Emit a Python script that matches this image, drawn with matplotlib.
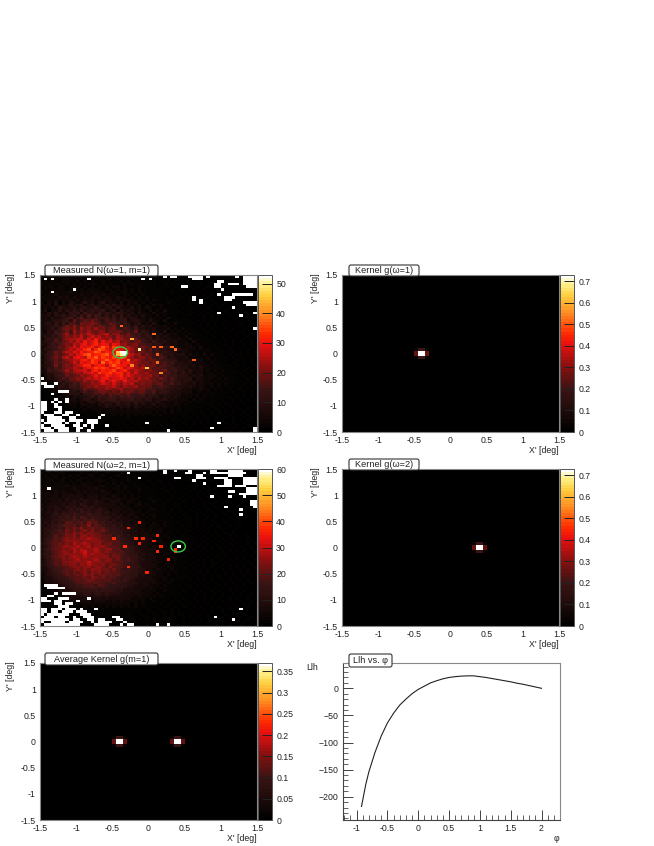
#!/usr/bin/env python3
"""Two measured sky maps, their kernels, the average kernel and the likelihood scan."""
import matplotlib
matplotlib.use('Agg')
import matplotlib.pyplot as plt
import numpy as np
from matplotlib.colors import LinearSegmentedColormap
from matplotlib.patches import Ellipse, FancyBboxPatch
from matplotlib.transforms import Affine2D

plt.rcParams['font.family'] = ['Liberation Sans', 'DejaVu Sans']
plt.rcParams['font.size'] = 6.3

W, H = 654, 846
TEXT = '#222222'

# counts / 2 per bin in base 36, top row first
N1_ROWS = [
    "2112121111 1211112111 1111211101 1111011011 0101001000 0000000000",
    "1221212211 1112121112 1211111111 0111110101 0010100000 0000000000",
    "1212112221 2121211211 1121211111 1101110100 1001000000 0000000000",
    "2121221212 1212221212 1112121111 1110111011 0010100010 0000000000",
    "1222122122 2121212121 2212111211 1101110101 1001001000 0000000000",
    "1212222122 2212222122 1212121211 1111101011 0010010001 0000000000",
    "2122222232 1222322212 2122121211 1111011101 0100101000 1000000000",
    "1222322222 2322232322 2212212121 1111101010 1010010100 0000000000",
    "2222232323 2232333232 2322121212 1111110111 0101001001 0000000000",
    "1222323232 3233323333 2323221212 1211111010 1100100100 1000000000",
    "2132413243 2353424523 3241323121 2111121101 0101010010 0100000000",
    "2231423353 4524534353 5342322312 1312111110 1101010100 1001000000",
    "1323254345 3554464345 3533242313 2112111101 0110101001 0010000000",
    "2413353546 4645655634 5253432321 3121311110 1101010100 0100100000",
    "2243534365 6375647565 4654342422 1312211111 0110101010 0100000000",
    "3342546457 4758577464 6463533242 2131211101 1101010101 0010010000",
    "2425345684 7957586775 7465354232 3212131111 1010110100 1001000000",
    "3334556749 6798a87586 7566345432 4221311111 1101010110 0100100000",
    "2453647588 6a99b98679 8757534523 2421121311 1110101010 1010010000",
    "3345657a8b 8a9ba8a978 9686746353 4232312111 1101101010 0100100000",
    "2346479a9b 8cab9c9a89 a768757443 3422231212 1110110101 0101001000",
    "3254768a7c 9baca9bb8a 9a97869465 3432412121 2111011010 1010010000",
    "4345789c8b acbdbabcd9 bb88a76756 4334232312 1211101101 0100101000",
    "3546579bac bdacecdbcb 9cb9a87756 6353432221 3111110110 1010100100",
    "2465869bcc ddbecfdcbd acca98a675 6454343232 1311111010 1101001000",
    "3556879acb dcfdegcfde cdaba89a76 5754533422 2131111101 0101010010",
    "4357689bad cefdfgeffc febc9ab887 7565343322 3212111110 1101001010",
    "2466798bce cfefgdfigd hgecdba8a8 7865654332 2321311111 0110101001",
    "3556789bdc eeghdgihfe gfeddca897 9675544343 3221212111 1011010100",
    "4367a8bdcf dgefgihegf eecfdb9aa8 8675654423 3212121111 1101010101",
    "3567989bdc efhifgghif fdgfedbc8a 8787555344 2322131211 1010110101",
    "2568a8cdbe fedhgifhgf hfigdcabb9 9768745433 4222212111 1101010010",
    "3467979bcd dfgehgfgig fhfegcdba8 a977665633 3422312121 1110101010",
    "2557989abe cfefhgdifh ghefgdcb9a 8a87867544 3423221211 1101101010",
    "3456a79bac deggdfgfdg igffdecab9 9a78876454 4342322121 1110101001",
    "2465879abd cbeffhghge fhgdfecbdb a898767654 5332422212 1111010110",
    "3376789cac ddecfgegfg hefgdcdcba b988a76755 3533322121 2111101010",
    "2355668a9b cbdefdhfgh fggdfcebbc 9a98786646 4423312212 1111110101",
    "1344677a89 acbcdfdegf efgdfdccbb c9a7876755 5343422221 2111011010",
    "2243568799 bacdcedffd eefecdbdbc a98a868655 4524322212 1211101101",
    "1323465788 a9cacbdfce fdcfdcdbba b987867654 5433322121 2111110101",
    "1223346568 79aacbcedc ecbdcdaaba a899678564 4342322212 1211101010",
    "1132355477 689bacbbcc dbacbbc9a9 9778765544 3432321212 1111011010",
    "1212244556 67a889bacb abc9aa99a8 8767655453 3322322121 1110110101",
    "0112234355 4686789a98 a8b9aa8997 7856654433 3312212111 1111011010",
    "0111213354 5366687979 8988a77886 6745544342 3222121211 1101101010",
    "0111122324 3445757668 7687876675 6553443432 2212121111 1110101010",
    "0101112133 2355346567 7566675646 5344533322 2121211111 1011010101",
    "0011111223 2324534645 5645546453 4353232322 1212111110 1101010101",
    "0101011122 1332324354 3544535343 3423322321 2111111101 0110101000",
    "0010101112 1213222343 3243424323 3232322121 1111110110 1010100101",
    "0001010111 1121222222 3232323222 2222212121 1111101011 0101010100",
    "0000101011 0111112122 2222222222 2121212111 1110110101 0101001010",
    "0000010101 1011111111 2121212121 1212111111 1011010110 1010010100",
    "0000001010 1101011111 1111211111 1111111101 1101011010 0101001010",
    "0000000101 0110101111 1111111111 1111101110 1010101010 1001010100",
    "0000000010 1010110101 1111011111 1101110101 1010101001 0101001000",
    "0000000001 0101011010 1101101101 1101011010 1010010101 0010100100",
    "0000000000 1010010101 0110110110 1010101010 0101001010 0101001000",
    "0000000000 0101001010 1010101010 1010010101 0010100100 1010010000",
]

N2_ROWS = [
    "1211212111 2112111211 1111210111 1101101010 0101001000 0000000000",
    "2121122111 1211121121 1121111011 1011010101 0010100000 0000000000",
    "1212212121 2112211211 1211110111 0101101010 1001000000 0000000000",
    "1221212212 1221212112 1111211011 1110101001 0010010010 0000000000",
    "2122122121 2212122211 2111211101 1011010101 0100100100 0000000000",
    "1221222212 1222212121 2121111110 1101011010 0010010000 1000000000",
    "2212222322 2232222312 1212112111 0110101101 0101001000 0000000000",
    "1223222223 2223232221 2212111211 1101101010 1010010010 0000000000",
    "2222323222 3232322322 1221211211 1110110101 0100101000 0100000000",
    "2232323332 3323332232 2212121111 1101011010 1001010010 0000000000",
    "2323324343 4323342322 3212121211 1110101101 0101001001 0000000000",
    "2233342534 3534432343 2322122111 2111011010 1010100100 1000000000",
    "2324343445 4354354323 4321321211 1211110101 1010010010 0000000000",
    "3234435355 4654454443 3232212312 1111101110 1001010100 1000000000",
    "2343543656 5465645434 3323212121 2111110110 1010010010 0100000000",
    "3243554565 6756556542 4332321211 2211101011 0101001001 0000000000",
    "3354646577 5867567563 4423232212 1111111010 1010100100 1010000000",
    "2435657768 7668767554 5342332121 2211110101 1001010010 0100000000",
    "3345576879 6987877665 4543323212 1211111010 1101001010 0010000000",
    "3445678789 8798a87664 6443432221 2112111101 0101010100 1001000000",
    "3546576a98 9a8b9a7867 5553423322 1211211110 1101010010 0100100000",
    "4456789a9a 8a9c8a9876 7564434231 2221211011 0101010101 0010010000",
    "3557687a9b ac9aba9a87 7655353322 2212111101 1010101001 0100100000",
    "4566898bab 9bcac9ab97 7765534232 3122111110 1101010010 1001000000",
    "3658799bac bcacbba988 8675443333 2212121111 1010101010 0101001000",
    "4567a8abbd acdbcbba99 7875644233 2321211101 1101010101 0010100100",
    "4678a9bcbc bdcedcbaa9 8876553423 3212121111 0110101010 1010010100",
    "4679a9bccd cbdcdccba9 a976654343 2322112111 1011010101 0101001010",
    "5689abacbe cdedbcdabb 9987654433 3212211111 1010101010 1010100101",
    "4579abcdcd ecdebdcdba a987765433 2321211101 1101010101 0101010010",
    "5689bacbde cedcdecbcc aa87865443 3322121111 1010110101 1010101010",
    "4679abdcbe defdcedbcb a9a8775543 3232212111 0110101010 1010101001",
    "5768abcdcd cdfdecdcba ba98766453 4321221111 1101010101 0101010101",
    "4679abcbde dcedcdcdca bb98876543 3322212111 1010101011 0100101010",
    "4578aacbcd ecdcdecbcc ab98976553 4322121211 1101010100 1010101001",
    "3578a9bccd cdcfdcdbcb a9a8876544 3232121111 1010110101 0101010100",
    "4568a9bbcc bdcedcbcab ba98776544 3321221111 0101010110 1010101010",
    "3467899abc cbcdbcdbac a998877644 4322122111 1011010101 0010101001",
    "3457889aab cbcbdccbba b987876553 3232212111 1010101010 1010010101",
    "2456789a9b abcacbcaba a988766543 4322121211 0101101010 0101010100",
    "2355678a9a bacbcabbaa 9a87766453 3322121111 1010010101 0101001010",
    "2345677899 aabacbab9a 9877765443 3222211111 1101010101 0010101000",
    "1334566789 a9abbaa9a9 8878654433 3321212111 0101010100 1010010100",
    "1233456678 99aa9a9988 9776555433 2322121101 1010101010 0101001010",
    "1223345677 889998a987 7766554333 2221211110 1101010001 0100101000",
    "1122344567 7788987877 7665443332 3212111011 0101001010 1010010100",
    "1112233456 6677776776 6554443322 2211211101 1010100101 0010101000",
    "0112223345 5566566565 5544433322 2121111110 1001010010 1001010010",
    "0101122334 4455455454 4443332322 1212111011 0101010100 1010010100",
    "0011112233 3344344343 3343322221 2111110101 1010010101 0010100100",
    "0001111222 2333233322 3232222121 1211101110 1001010010 1010010010",
    "0001011122 1222222222 2222212121 1111011011 0101001010 0101001000",
    "0000101111 1121212121 2121212111 1110110101 1010100101 0010100100",
    "0000010101 1111111211 1111111111 1011011010 0101010010 1010010100",
    "0000001011 0101111111 1111111101 1101101010 1010010100 1001010000",
    "0000000101 1010101111 0111110111 0110101011 0100101010 0100101000",
    "0000000010 1001011010 1110111011 1010101101 0101001010 1010010010",
    "0000000001 0010101101 0110110101 0101110101 0010100101 0010100100",
    "0000000000 1001010010 1010101011 0101010101 0101001010 0100101000",
    "0000000000 0010010101 0101010101 0010101010 1001010010 1010010000",
]

# (col, row, counts) of the bins that stand out
N1_HOT = [(21, 29, 46), (22, 29, 53), (23, 29, 53), (21, 30, 44), (22, 30, 50), (23, 30, 52),
          (25, 24, 44), (31, 22, 38), (22, 19, 38), (36, 27, 38), (33, 27, 36), (31, 27, 36),
          (27, 28, 50), (25, 34, 40), (29, 35, 46), (33, 37, 40), (32, 33, 38), (24, 32, 38),
          (32, 30, 36), (42, 32, 36), (37, 28, 38)]
N2_HOT = [(38, 29, 60), (27, 20, 36), (24, 22, 38), (20, 26, 38), (26, 26, 38), (28, 26, 36),
          (27, 28, 38), (23, 29, 38), (31, 27, 36), (32, 25, 38), (32, 31, 38), (35, 34, 36),
          (24, 37, 38), (29, 39, 36), (37, 31, 38), (33, 29, 36), (37, 30, 36)]

# bins with no entries, drawn white: row -> columns
N1_EMPTY = {
    0: [34, 36, 37, 41, 42, 43, 44, 46, 54, 56, 57, 58, 59], 1: [1, 3, 13, 28, 30, 42, 43, 44, 56, 57, 58, 59],
    2: [49, 50, 56, 57, 58, 59], 3: [48, 49, 52, 53, 54, 56, 57, 58, 59], 4: [39, 40, 48, 49, 57, 58, 59],
    5: [9, 50], 6: [3], 7: [49, 53, 54, 55, 56, 57, 58], 8: [42, 51, 52, 53], 9: [42, 44, 51, 52],
    10: [44, 56, 57, 58, 59], 11: [57, 58, 59], 12: [53], 14: [49, 59], 15: [55], 20: [59],
    39: [0], 41: [0, 1, 4], 42: [1, 2, 3], 44: [5, 6, 7], 45: [3],
    47: [4, 7], 48: [0, 1, 3, 5, 7], 49: [0, 1, 4], 50: [0, 1, 4, 5], 51: [0, 1, 5],
    52: [0, 4, 5, 7, 8], 53: [1, 2, 3, 6, 7, 10, 17], 54: [2, 3, 4, 5, 8, 9, 16],
    55: [0, 2, 3, 4, 5, 6, 8, 9, 10, 11, 13, 14, 15], 56: [1, 2, 3, 4, 5, 7, 10, 13, 14, 15, 29, 49],
    57: [0, 3, 4, 5, 6, 9, 10, 12, 14, 18], 58: [0, 1, 2, 4, 5, 6, 7, 10, 11, 14, 47, 59],
    59: [1, 2, 3, 5, 6, 7, 10, 13, 35, 59],
}
N2_EMPTY = {
    0: [34, 37, 41, 47, 48, 52, 53, 54, 55], 1: [24, 34, 40, 41, 45, 47, 48, 49, 50, 51, 52, 53, 54, 55, 56],
    2: [43, 44, 52, 53, 54, 55], 3: [27, 37, 38, 43, 44, 45, 48, 49, 50, 51, 56, 57, 58, 59],
    4: [42, 51, 52, 56, 57, 58, 59], 5: [45, 51, 52, 56, 57, 58, 59], 6: [49, 50, 51, 52, 54, 55, 56],
    7: [2, 57, 58, 59], 8: [52, 53, 57, 58, 59], 9: [55, 56, 57, 58, 59], 10: [47, 52, 56],
    12: [58, 59], 13: [58, 59], 14: [51, 59], 15: [55], 17: [55],
    44: [1, 2, 3, 4], 45: [2, 3, 4, 5, 6], 47: [4, 6, 7, 8, 9], 48: [2, 3],
    49: [0, 1, 5, 6, 7, 13], 50: [0, 1, 2, 4, 5, 10], 51: [4, 5, 7, 8], 52: [5, 6, 7],
    53: [0, 1, 3, 4, 5, 7, 8, 9, 11, 15, 55], 54: [0, 1, 3, 4, 6, 7, 8, 10, 11, 12],
    55: [0, 2, 3, 4, 5, 6, 7, 11, 12, 13], 56: [1, 2, 3, 5, 6, 9, 12, 13, 14, 20, 21, 48],
    57: [0, 1, 2, 3, 4, 5, 6, 7, 9, 10, 13, 14, 16, 17, 21, 22, 53],
    58: [0, 3, 4, 5, 6, 8, 9, 10, 11, 14, 16, 17, 18, 19, 23],
    59: [1, 2, 3, 4, 5, 6, 7, 8, 9, 10, 15, 16, 17, 18, 22, 24, 25, 32, 35],
}

# kernel: plateau half width in bins, for each row away from the centre line
PLATEAU_HALF = [15, 15, 15, 14, 14, 14, 13, 13, 12, 11, 10, 9, 8, 6, 4]
PLATEAU_VALUE = 0.012
# 4x4 bins round the source position
KERNEL_CORE = [[0.03, 0.20, 0.20, 0.03],
               [0.26, 0.73, 0.73, 0.26],
               [0.26, 0.73, 0.73, 0.26],
               [0.03, 0.20, 0.20, 0.03]]
KERNEL1_COL = 22
KERNEL2_COL = 38

PHI = [-0.92, -0.85, -0.8, -0.7, -0.6, -0.5, -0.4, -0.3, -0.2, -0.1, 0, 0.1, 0.2, 0.3, 0.4, 0.5,
       0.6, 0.7, 0.8, 0.9, 1.0, 1.1, 1.2, 1.3, 1.4, 1.5, 1.6, 1.7, 1.8, 1.9, 2.0]
LLH = [-218, -177, -154, -118, -88, -64, -46, -31, -20, -10, -2, 4, 10, 14, 17.5, 20,
       21.5, 22.5, 23, 23, 21.5, 20, 18, 16, 14, 12, 9.5, 7.5, 5, 2.5, 0]

root_hot = LinearSegmentedColormap.from_list('root_hot', [
    (0.0, '#000000'), (0.12, '#1c0a0a'), (0.27, '#3a1414'), (0.42, '#8a1010'),
    (0.56, '#e81010'), (0.63, '#ff2a00'), (0.76, '#ff8a20'), (0.88, '#ffd040'),
    (0.95, '#fff08a'), (1.0, '#ffffff')], N=50)
root_hot.set_bad('white')


def px_axes(left, top, right, bottom):
    return fig.add_axes([left / W, 1 - bottom / H, (right - left) / W, (bottom - top) / H])


def title_box(left, top, right, bottom, label):
    to_fig = Affine2D().scale(1 / W, 1 / H) + fig.transFigure
    box = FancyBboxPatch((left, H - bottom), right - left, bottom - top,
                         boxstyle='round,pad=0,rounding_size=2', transform=to_fig,
                         fc='white', ec='#333333', lw=0.8, zorder=10)
    fig.add_artist(box)
    fig.text((left + right) / 2 / W, 1 - (top + bottom) / 2 / H, label, ha='center', va='center',
             color=TEXT, fontsize=6.6, zorder=11)


def parse_map(rows, hot, empty):
    grid = np.array([[int(c, 36) * 2 for c in r.replace(' ', '')] for r in rows], dtype=float)
    for col, row, val in hot:
        grid[row, col] = val
    for row, cols in empty.items():
        grid[row, cols] = np.nan
    return np.ma.masked_invalid(grid)


def kernel_map(cols, scale):
    grid = np.zeros((60, 60))
    for col in cols:
        for k, half in enumerate(PLATEAU_HALF):
            for row in (29 - k, 30 + k):
                grid[row, col - half:col + half] = PLATEAU_VALUE * scale
    for col in cols:
        grid[28:32, col - 2:col + 2] = np.array(KERNEL_CORE) * scale
    return grid


def map_panel(left, top, grid, vmax, ticks, ticklabels):
    ax = px_axes(left, top, left + 217, top + 157)
    edges = np.linspace(-1.5, 1.5, 61)
    im = ax.pcolormesh(edges, edges[::-1], grid, cmap=root_hot, vmin=0, vmax=vmax)
    ax.set_xlim(-1.5, 1.5)
    ax.set_ylim(-1.5, 1.5)
    ax.set_xticks([-1.5, -1, -0.5, 0, 0.5, 1, 1.5])
    ax.set_xticklabels(['-1.5', '-1', '-0.5', '0', '0.5', '1', '1.5'])
    ax.set_yticks([-1.5, -1, -0.5, 0, 0.5, 1, 1.5])
    ax.set_yticklabels(['-1.5', '-1', '-0.5', '0', '0.5', '1', '1.5'])
    ax.tick_params(length=0, pad=3, colors=TEXT, labelsize=6.3)
    for side in ax.spines.values():
        side.set_color('#888888')
        side.set_linewidth(0.8)
    fig.text((left + 217) / W, 1 - (top + 175) / H, "X' [deg]", ha='right', va='center', color=TEXT)
    if left < 100:
        fig.text(11 / W, 1 - (top - 2) / H, "Y' [deg]", rotation=90, ha='center', va='top', color=TEXT)
    else:
        fig.text((left - 27) / W, 1 - (top - 2) / H, "Y' [deg]", rotation=90, ha='center', va='top', color=TEXT)

    cax = px_axes(left + 218, top, left + 232, top + 157)
    cb = fig.colorbar(im, cax=cax)
    cb.set_ticks(ticks)
    cb.set_ticklabels(ticklabels)
    cax.tick_params(direction='in', length=7, width=0.7, pad=3, colors=TEXT, labelsize=6.3)
    cax.tick_params(axis='y', color='#222222')
    cb.outline.set_edgecolor('#555555')
    cb.outline.set_linewidth(0.7)
    return ax


fig = plt.figure(figsize=(W / 100, H / 100), dpi=100, facecolor='white')

n1 = parse_map(N1_ROWS, N1_HOT, N1_EMPTY)
n2 = parse_map(N2_ROWS, N2_HOT, N2_EMPTY)

ax = map_panel(40, 275, n1, 52.9, [0, 10, 20, 30, 40, 50], ['0', '10', '20', '30', '40', '50'])
ax.add_patch(Ellipse((-0.39, 0.02), 0.2, 0.21, fc='none', ec='#33cc44', lw=1.0))
map_panel(342, 275, kernel_map([KERNEL1_COL], 1.0), 0.73, [0, .1, .2, .3, .4, .5, .6, .7],
          ['0', '0.1', '0.2', '0.3', '0.4', '0.5', '0.6', '0.7'])
ax = map_panel(40, 469, n2, 60, [0, 10, 20, 30, 40, 50, 60], ['0', '10', '20', '30', '40', '50', '60'])
ax.add_patch(Ellipse((0.41, 0.02), 0.2, 0.21, fc='none', ec='#33cc44', lw=1.0))
map_panel(342, 469, kernel_map([KERNEL2_COL], 1.0), 0.73, [0, .1, .2, .3, .4, .5, .6, .7],
          ['0', '0.1', '0.2', '0.3', '0.4', '0.5', '0.6', '0.7'])
map_panel(40, 663, kernel_map([KERNEL1_COL, KERNEL2_COL], 0.5), 0.37, [0, .05, .1, .15, .2, .25, .3, .35],
          ['0', '0.05', '0.1', '0.15', '0.2', '0.25', '0.3', '0.35'])

ax = px_axes(343, 663, 560, 820)
ax.plot(PHI, LLH, color='#222222', lw=0.8)
ax.set_xlim(-1.22, 2.30)
ax.set_ylim(-243, 46.7)
ax.set_xticks([-1, -0.5, 0, 0.5, 1, 1.5, 2])
ax.set_xticklabels(['-1', '-0.5', '0', '0.5', '1', '1.5', '2'])
ax.set_yticks([-200, -150, -100, -50, 0])
ax.set_xticks(np.arange(-1.2, 2.31, 0.1), minor=True)
ax.set_yticks(np.arange(-240, 41, 10), minor=True)
ax.tick_params(which='major', direction='in', length=7, width=0.6, pad=3, colors=TEXT, labelsize=6.3)
ax.tick_params(which='minor', direction='in', length=3.5, width=0.5, color=TEXT)
for side in ax.spines.values():
    side.set_color('#888888')
    side.set_linewidth(0.8)
ax.spines['left'].set_color('#444444')
ax.spines['bottom'].set_color('#444444')
fig.text(556.5 / W, 1 - 838 / H, "φ", ha='center', va='center', color=TEXT)
fig.text(312 / W, 1 - 667 / H, "Llh", ha='center', va='center', color=TEXT)

title_box(45, 265, 158, 276, "Measured N(ω=1, m=1)")
title_box(349, 265, 419, 276, "Kernel g(ω=1)")
title_box(45, 459, 158, 471, "Measured N(ω=2, m=1)")
title_box(349, 459, 419, 470, "Kernel g(ω=2)")
title_box(45, 653, 158, 665, "Average Kernel g(m=1)")
title_box(349, 654, 392, 667, "Llh vs. φ")

fig.savefig('out.png', dpi=100, facecolor='white')
